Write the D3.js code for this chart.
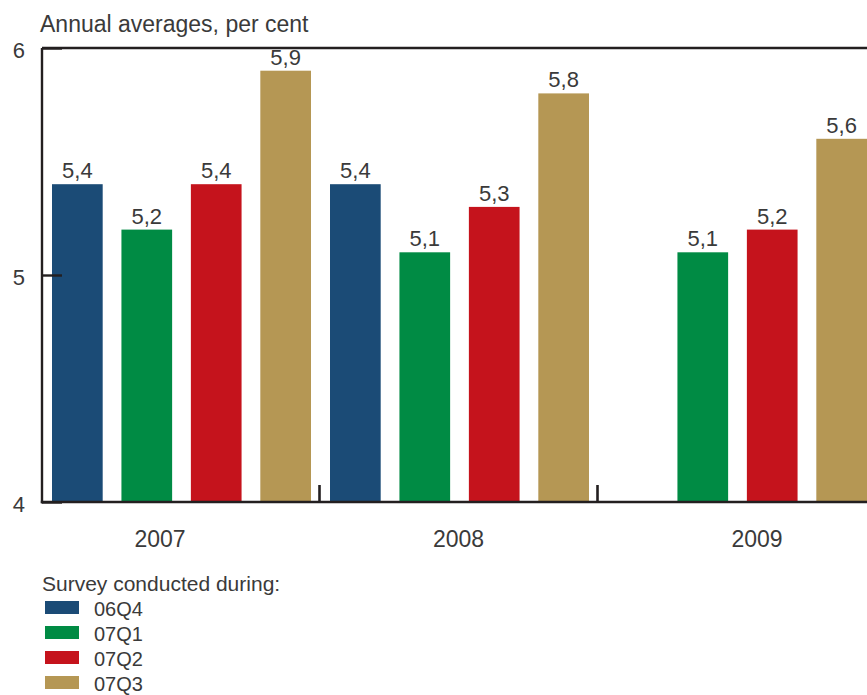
<!DOCTYPE html>
<html>
<head>
<meta charset="utf-8">
<script src="https://cdn.jsdelivr.net/npm/d3@7"></script>
<style>
  html, body { margin: 0; padding: 0; background: #fff; }
  svg { display: block; }
  text { font-family: "Liberation Sans", Arial, Helvetica, sans-serif; fill: #3a3a3a; }
</style>
</head>
<body>
<svg id="chart" width="867" height="695"></svg>
<script>
// Forecast years and the survey rounds that produced each estimate
const years = ["2007", "2008", "2009"];
const surveys = ["06Q4", "07Q1", "07Q2", "07Q3"];

// Annual averages (per cent) reported in each survey round; null = not asked
const values06Q4 = [5.4, 5.4, null];
const values07Q1 = [5.2, 5.1, 5.1];
const values07Q2 = [5.4, 5.3, 5.2];
const values07Q3 = [5.9, 5.8, 5.6];

const yTicks = [4, 5, 6];
const surveyColors = ["#1b4b76", "#008b44", "#c5131c", "#b59754"];

const seriesValues = [values06Q4, values07Q1, values07Q2, values07Q3];

const svg = d3.select("#chart");
const axisColor = "#231f20";

const y = d3.scaleLinear().domain([4, 6]).range([502, 48]);
const x0 = d3.scaleBand().domain(years).range([42, 876]).padding(0);
const x1 = d3.scaleBand().domain(surveys).range([10, 269]).paddingInner(0.27).paddingOuter(0);
const xLabel = d3.scalePoint().domain(years).range([160, 757]);
const color = d3.scaleOrdinal().domain(surveys).range(surveyColors);

const fmt = d3.formatLocale({ decimal: ",", thousands: " ", grouping: [3], currency: ["", ""] }).format(".1f");

// Title
svg.append("text")
  .attr("x", 40).attr("y", 32)
  .style("font-size", "23px")
  .text("Annual averages, per cent");

// Bars, one group per year
const cells = [];
years.forEach((yr, i) => {
  surveys.forEach((s, j) => {
    const v = seriesValues[j][i];
    if (v != null) cells.push({ year: yr, survey: s, value: v });
  });
});

const bars = svg.append("g");
bars.selectAll("rect").data(cells).join("rect")
  .attr("x", d => x0(d.year) + x1(d.survey))
  .attr("width", x1.bandwidth())
  .attr("y", d => y(d.value))
  .attr("height", d => y(4) - y(d.value))
  .attr("fill", d => color(d.survey));

bars.selectAll("text").data(cells).join("text")
  .attr("x", d => x0(d.year) + x1(d.survey) + x1.bandwidth() / 2)
  .attr("y", d => y(d.value) - 6)
  .attr("text-anchor", "middle")
  .style("font-size", "22px")
  .text(d => fmt(d.value));

// Frame: left axis, top border, bottom baseline
const frame = svg.append("g").attr("stroke", axisColor).attr("stroke-width", 2.4).attr("fill", "none");
frame.append("line").attr("x1", 42).attr("x2", 42).attr("y1", y(6)).attr("y2", y(4) + 1.2);
frame.append("line").attr("x1", 42).attr("x2", 867).attr("y1", y(6)).attr("y2", y(6));
frame.append("line").attr("x1", 40.8).attr("x2", 867).attr("y1", y(4)).attr("y2", y(4));

// Y axis with inward ticks
const yAxis = d3.axisLeft(y).tickValues(yTicks).tickSizeInner(-20).tickSizeOuter(0).tickPadding(17)
  .tickFormat(d3.format("d"));
const yg = svg.append("g").attr("transform", "translate(42,0)").call(yAxis);
yg.select(".domain").remove();
yg.selectAll(".tick line").attr("stroke", axisColor).attr("stroke-width", 2.4);
yg.selectAll(".tick text")
  .attr("dy", "0.42em")
  .style("font-size", "22px")
  .style("font-family", "'Liberation Sans', Arial, sans-serif")
  .attr("fill", "#3a3a3a");

// Separators between year groups
svg.append("g").selectAll("line").data(years.slice(1)).join("line")
  .attr("x1", d => x0(d) - 0.5).attr("x2", d => x0(d) - 0.5)
  .attr("y1", y(4) - 17).attr("y2", y(4))
  .attr("stroke", axisColor).attr("stroke-width", 2.6);

// Year labels
svg.append("g").selectAll("text").data(years).join("text")
  .attr("x", d => xLabel(d))
  .attr("y", 547)
  .attr("text-anchor", "middle")
  .style("font-size", "23px")
  .text(d => d);

// Legend
const legend = svg.append("g");
legend.append("text")
  .attr("x", 42).attr("y", 591)
  .style("font-size", "21px")
  .text("Survey conducted during:");
const items = legend.selectAll("g.item").data(surveys).join("g")
  .attr("class", "item")
  .attr("transform", (d, i) => `translate(0,${601 + i * 25})`);
items.append("rect")
  .attr("x", 45).attr("y", 0).attr("width", 34).attr("height", 13)
  .attr("fill", d => color(d));
items.append("text")
  .attr("x", 94).attr("y", 15)
  .style("font-size", "20px")
  .text(d => d);
</script>
</body>
</html>
